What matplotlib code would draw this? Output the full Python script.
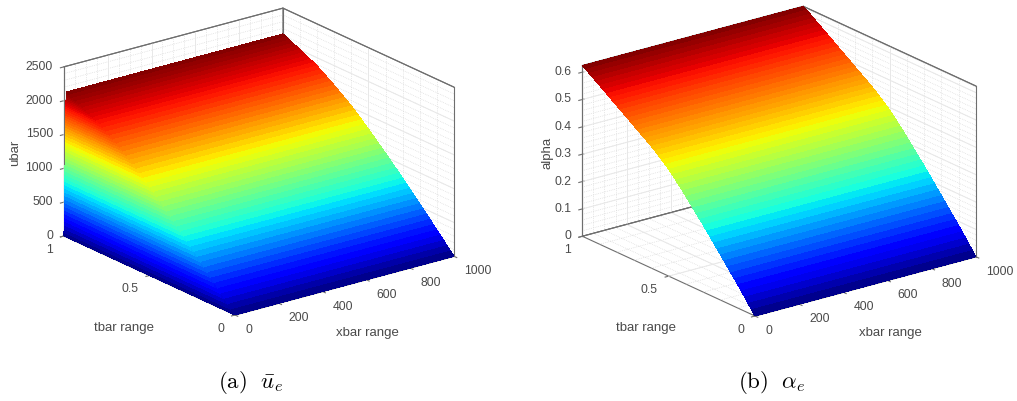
import numpy as np
import matplotlib
matplotlib.use("Agg")
import matplotlib.pyplot as plt
from mpl_toolkits.mplot3d import proj3d

W, H = 1017, 402

tbar = [0.00, 0.02, 0.04, 0.06, 0.08, 0.10, 0.12, 0.14, 0.16, 0.18,
        0.20, 0.22, 0.24, 0.26, 0.28, 0.30, 0.32, 0.34, 0.36, 0.38,
        0.40, 0.42, 0.44, 0.46, 0.48, 0.50, 0.52, 0.54, 0.56, 0.58,
        0.60, 0.62, 0.64, 0.66, 0.68, 0.70, 0.72, 0.74, 0.76, 0.78,
        0.80, 0.82, 0.84, 0.86, 0.88, 0.90, 0.92, 0.94, 0.96, 0.98, 1.00]

ubar = [0, 55, 110, 164, 219, 273, 328, 382, 436, 490,
        544, 596, 648, 700, 752, 804, 855, 906, 957, 1008,
        1056, 1105, 1153, 1201, 1249, 1296, 1342, 1388, 1434, 1479,
        1523, 1561, 1599, 1637, 1674, 1710, 1745, 1780, 1814, 1848,
        1880, 1906, 1931, 1956, 1981, 2005, 2028, 2051, 2074, 2097, 2119]

alpha = [0, .017, .034, .051, .068, .085, .101, .117, .133, .149,
         .165, .181, .197, .213, .229, .245, .260, .275, .290, .305,
         .320, .335, .349, .363, .377, .390, .402, .413, .424, .435,
         .445, .454, .463, .472, .481, .490, .499, .508, .517, .526,
         .535, .544, .553, .562, .571, .580, .589, .598, .607, .616, .624]

# ubar climbs from 0 to its plateau over the first few xbar units
wall_width = 10
xbar_end = 1000

x_ticks = [0, 200, 400, 600, 800, 1000]
x_tick_labels = ["0", "200", "400", "600", "800", "1000"]
x_minor = np.arange(0, 1001, 50)
t_ticks = [0, 0.5, 1]
t_tick_labels = ["0", "0.5", "1"]
t_minor = np.arange(0, 1.01, 0.1)

u_ticks = [0, 500, 1000, 1500, 2000, 2500]
u_tick_labels = ["0", "500", "1000", "1500", "2000", "2500"]
u_minor = np.arange(0, 2501, 100)
a_ticks = [0, 0.1, 0.2, 0.3, 0.4, 0.5, 0.6]
a_tick_labels = ["0", "0.1", "0.2", "0.3", "0.4", "0.5", "0.6"]
a_minor = np.arange(0, 0.621, 0.02)

plt.rcParams["font.family"] = "Liberation Sans"
plt.rcParams["mathtext.fontset"] = "cm"

TXT = "#4a4a4a"
LINE = "#6e6e6e"


def walls_grid(ax, ticks, minor, ls, color, lw):
    x0, x1 = ax.get_xlim()
    t0, t1 = ax.get_ylim()
    z0, z1 = ax.get_zlim()
    # lines on the box edges would cover the darker box outline
    x_list = [v for v in ticks if x0 < v < x1]
    t_list = [v for v in minor[0] if t0 < v < t1]
    z_list = [v for v in minor[1] if z0 < v < z1]
    for x in x_list:
        ax.plot([x, x], [t0, t1], [z0, z0], ls, color=color, lw=lw, zorder=1)
        ax.plot([x, x], [t1, t1], [z0, z1], ls, color=color, lw=lw, zorder=1)
    for t in t_list:
        ax.plot([x0, x1], [t, t], [z0, z0], ls, color=color, lw=lw, zorder=1)
        ax.plot([x1, x1], [t, t], [z0, z1], ls, color=color, lw=lw, zorder=1)
    for z in z_list:
        ax.plot([x0, x1], [t1, t1], [z, z], ls, color=color, lw=lw, zorder=1)
        ax.plot([x1, x1], [t0, t1], [z, z], ls, color=color, lw=lw, zorder=1)


def box_edges(ax):
    x0, x1 = ax.get_xlim()
    t0, t1 = ax.get_ylim()
    z0, z1 = ax.get_zlim()
    ax.plot([x1, x1], [t0, t0], [z0, z1], color=LINE, lw=0.8, zorder=2)
    ax.plot([x0, x0], [t1, t1], [z0, z1], color=LINE, lw=0.8, zorder=2)
    ax.plot([x1, x1], [t1, t1], [z0, z1], color=LINE, lw=0.8, zorder=2)
    ax.plot([x0, x1], [t1, t1], [z1, z1], color=LINE, lw=0.8, zorder=2)
    ax.plot([x1, x1], [t0, t1], [z1, z1], color=LINE, lw=0.8, zorder=2)
    ax.plot([x0, x1], [t1, t1], [z0, z0], color=LINE, lw=0.8, zorder=2)
    ax.plot([x1, x1], [t0, t1], [z0, z0], color=LINE, lw=0.8, zorder=2)


def to_px(ax, x, y, z):
    px, py, _ = proj3d.proj_transform(x, y, z, ax.get_proj())
    return ax.transData.transform((px, py))


def fit_box(ax, near, right):
    # move the axes so the two floor corners land on the given pixels
    xmax = ax.get_xlim()[1]
    fig.canvas.draw()
    a = to_px(ax, 0, 0, 0)
    b = to_px(ax, xmax, 0, 0)
    s = (near[0] - right[0]) / (a[0] - b[0])
    pos = ax.get_position()
    ax.set_position([pos.x0, pos.y0, pos.width * s, pos.height * s])
    fig.canvas.draw()
    a = to_px(ax, 0, 0, 0)
    pos = ax.get_position()
    ax.set_position([pos.x0 + (near[0] - a[0]) / W,
                     pos.y0 + (H - near[1] - a[1]) / H,
                     pos.width, pos.height])
    fig.canvas.draw()


def tick_text(ax, xyz, s, dx, dy, ha):
    # mplot3d resets tick label transforms, so the labels are placed by hand
    px, py = to_px(ax, *xyz)
    fig.text((px + dx) / W, (py - dy) / H, s, ha=ha, va="center",
             fontsize=8.8, color=TXT)


def panel(rect, X, T, Z, zmax, zticks, zlabels, zminor, near, right):
    ax = fig.add_axes(rect, projection="3d", proj_type="ortho",
                      computed_zorder=False)
    ax.view_init(elev=20.6, azim=-127.3)
    ax.set_box_aspect((275, 282, 180.5))
    ax.patch.set_alpha(0)
    ax.set_xlim(0, xbar_end)
    ax.set_ylim(0, 1)
    ax.set_zlim(0, zmax)
    ax.grid(False)

    walls_grid(ax, x_minor, (t_minor, zminor), ":", "#d4d4d4", 0.5)
    walls_grid(ax, x_ticks, (t_ticks, zticks), "-", "#e8e8e8", 0.7)
    box_edges(ax)

    ax.plot_surface(X, T, Z, cmap="jet", vmin=0, vmax=np.max(Z), rstride=1,
                    cstride=1, linewidth=0, antialiased=False, zorder=5)

    ax.set_xticks(x_ticks)
    ax.set_yticks(t_ticks)
    ax.set_zticks(zticks)
    ax.set_xticklabels([])
    ax.set_yticklabels([])
    ax.set_zticklabels([])
    ax.tick_params(color=LINE)
    for axis in (ax.xaxis, ax.yaxis, ax.zaxis):
        axis.set_pane_color((1, 1, 1, 1))
        axis.pane.set_edgecolor(LINE)
        axis.pane.set_linewidth(0.8)
        axis.line.set_color(LINE)
        axis.line.set_linewidth(0.8)
    ax.zaxis.set_ticks_position("upper")

    fit_box(ax, near, right)

    for v, s in zip(x_ticks, x_tick_labels):
        tick_text(ax, (v, 0, 0), s, 10, 14, "left")
    for v, s in zip(t_ticks, t_tick_labels):
        tick_text(ax, (0, v, 0), s, -11, 13, "right")
    for v, s in zip(zticks, zlabels):
        tick_text(ax, (0, 1, v), s, -11, -1, "right")
    return ax


def label(px, py, s, **kw):
    fig.text(px / W, 1 - py / H, s, ha="center", va="center", **kw)


fig = plt.figure(figsize=(W / 100, H / 100), dpi=100)

tbar = np.array(tbar)
ubar = np.array(ubar, dtype=float)
alpha = np.array(alpha)

x_a = np.append(ubar / ubar.max() * wall_width, xbar_end)
X_a, T_a = np.meshgrid(x_a, tbar)
Z_a = np.minimum.outer(ubar, np.append(ubar, ubar.max()))

X_b, T_b = np.meshgrid([0, xbar_end], tbar)
Z_b = np.column_stack([alpha, alpha])

panel([0.0, 0.0, 0.5, 1.0], X_a, T_a, Z_a, 2500, u_ticks, u_tick_labels, u_minor,
      (235, 316), (454, 257))
panel([0.5, 0.0, 0.5, 1.0], X_b, T_b, Z_b, 0.624, a_ticks, a_tick_labels, a_minor,
      (755, 317), (976, 257))

for px, s in ((124, "tbar range"), (646, "tbar range")):
    label(px, 328, s, fontsize=9.5, color=TXT)
for px, s in ((367, "xbar range"), (890, "xbar range")):
    label(px, 333, s, fontsize=9.5, color=TXT)
label(15, 153, "ubar", fontsize=9.5, color=TXT, rotation=90)
label(548, 153, "alpha", fontsize=9.5, color=TXT, rotation=90)

label(251, 383, r"$\mathrm{(a)}\ \ \bar{u}_e$", fontsize=16.5, color="black")
label(772, 383, r"$\mathrm{(b)}\ \ \alpha_e$", fontsize=16.5, color="black")

fig.savefig("out.png", dpi=100)
